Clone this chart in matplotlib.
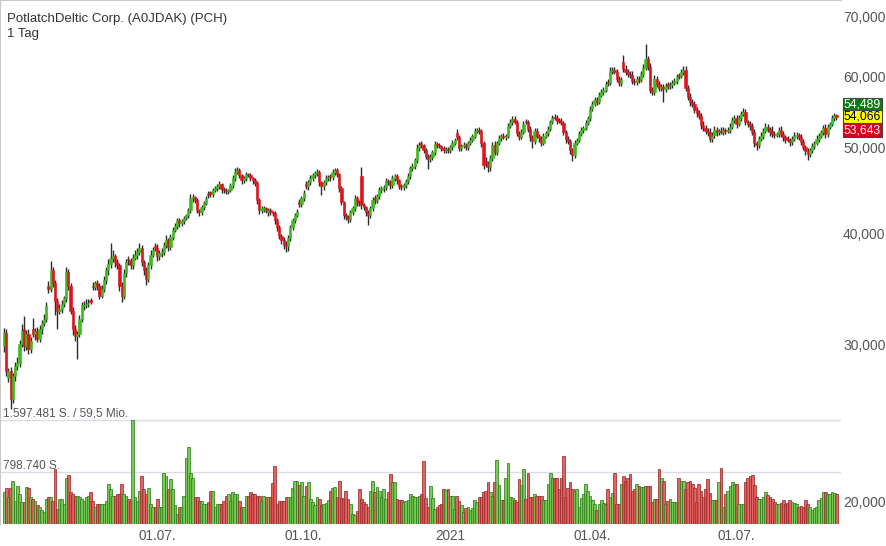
import numpy as np
import pandas as pd
import matplotlib
matplotlib.use("Agg")
import matplotlib.pyplot as plt
from matplotlib.ticker import FixedLocator, NullLocator

plt.rcParams["font.family"] = ["Liberation Sans", "DejaVu Sans"]

title = "PotlatchDeltic Corp. (A0JDAK) (PCH)"
period = "1 Tag"
start_date = "2020-03-26"

# daily candles (EUR)
opens = [
    29.95, 30.98, 27.57, 28.07, 26.11, 27.71, 28.44, 28.66, 30.11, 31.30,
    29.95, 30.90, 29.72, 31.30, 30.90, 31.14, 30.50, 31.30, 31.79, 32.12,
    34.98, 34.71, 36.37, 35.17, 33.65, 32.79, 32.96, 33.39, 33.83, 36.18,
    34.98, 32.79, 31.30, 30.74, 30.90, 32.12, 33.20, 33.30, 33.39, 33.70,
    34.98, 34.89, 35.17, 34.98, 34.09, 34.71, 35.44, 36.37, 36.94, 37.52,
    37.71, 37.13, 36.84, 34.98, 34.09, 36.09, 37.50, 37.32, 36.84, 37.52,
    37.81, 38.10, 38.50, 37.13, 36.37, 35.62, 36.84, 37.90, 38.70, 38.50,
    37.71, 38.00, 38.10, 38.80, 39.31, 38.60, 39.61, 40.34, 40.75, 41.40,
    41.08, 41.29, 41.61, 41.93, 42.48, 43.82, 43.93, 43.60, 42.48, 42.26,
    42.81, 43.26, 44.30, 44.50, 44.27, 44.74, 44.97, 45.20, 45.44, 44.86,
    44.74, 44.62, 44.74, 45.32, 46.15, 46.88, 47.12, 46.51, 45.91, 46.15,
    46.63, 46.51, 46.15, 45.91, 45.55, 43.60, 42.48, 42.55, 42.70, 42.30,
    42.48, 42.26, 42.15, 41.40, 40.65, 39.72, 39.31, 38.80, 38.70, 39.51,
    40.65, 41.40, 41.93, 43.40, 43.15, 43.82, 45.50, 45.20, 45.67, 46.15,
    46.51, 46.75, 46.88, 45.67, 45.20, 45.67, 46.15, 46.40, 46.27, 46.88,
    47.12, 46.63, 44.97, 43.37, 41.93, 41.72, 41.50, 42.26, 42.70, 43.82,
    43.37, 46.39, 43.03, 42.81, 42.26, 41.93, 42.70, 43.90, 43.60, 44.05,
    44.74, 44.97, 45.08, 45.79, 45.67, 45.32, 46.15, 46.39, 45.91, 45.20,
    45.08, 45.32, 45.79, 46.39, 47.36, 47.61, 48.35, 49.88, 50.53, 50.27,
    49.62, 48.85, 48.47, 48.73, 49.36, 50.40, 50.27, 50.14, 49.88, 49.62,
    49.75, 49.62, 50.01, 50.53, 51.85, 51.32, 49.88, 50.14, 50.27, 50.01,
    50.53, 50.92, 51.46, 52.13, 52.26, 52.13, 50.53, 48.30, 47.97, 47.48,
    48.60, 50.27, 49.36, 50.53, 51.19, 51.46, 51.32, 51.46, 52.80, 53.35,
    53.77, 53.35, 51.85, 51.32, 51.99, 53.50, 53.35, 52.40, 51.32, 50.79,
    52.13, 51.46, 51.19, 50.53, 51.46, 51.85, 52.40, 53.35, 54.05, 53.91,
    53.62, 53.49, 53.22, 51.99, 51.06, 50.79, 49.62, 48.98, 50.53, 50.92,
    51.72, 52.26, 52.53, 53.22, 53.91, 55.18, 55.89, 56.48, 56.19, 57.21,
    57.66, 57.96, 59.20, 59.02, 60.88, 61.04, 60.72, 59.64, 59.02, 62.32,
    61.20, 60.72, 60.41, 60.25, 59.33, 59.17, 59.64, 59.48, 60.41, 61.35,
    62.81, 61.51, 57.96, 57.66, 59.64, 58.86, 58.26, 58.41, 58.11, 58.80,
    58.56, 58.71, 59.02, 59.33, 60.25, 60.10, 60.72, 61.04, 58.26, 56.92,
    56.19, 55.89, 55.04, 54.61, 54.19, 52.94, 52.53, 52.13, 51.99, 51.06,
    51.59, 52.26, 51.99, 52.13, 51.99, 52.26, 52.13, 52.26, 52.67, 53.63,
    53.91, 53.08, 53.91, 54.47, 54.75, 53.35, 53.08, 52.80, 51.99, 50.53,
    50.27, 51.06, 51.46, 52.13, 52.67, 52.40, 52.20, 51.72, 51.59, 51.72,
    52.26, 51.72, 51.32, 51.10, 50.92, 50.66, 51.06, 51.46, 51.59, 51.32,
    50.66, 50.01, 49.49, 49.11, 49.62, 50.14, 50.53, 51.06, 51.46, 51.99,
    52.53, 51.72, 52.67, 53.08, 53.91, 54.33,
]
closes = [
    30.98, 28.07, 28.07, 26.11, 27.71, 28.44, 28.66, 30.11, 31.14, 29.95,
    30.90, 29.72, 30.34, 30.90, 31.14, 30.50, 31.30, 31.79, 32.12, 33.22,
    34.71, 36.37, 35.17, 33.65, 32.79, 32.96, 33.39, 33.83, 36.18, 34.98,
    32.79, 31.30, 30.74, 30.90, 32.12, 33.30, 33.30, 33.39, 33.48, 33.56,
    34.89, 35.17, 34.98, 34.09, 34.71, 35.44, 36.37, 36.94, 37.52, 37.71,
    37.13, 36.84, 34.98, 34.09, 36.09, 37.13, 37.32, 36.84, 37.52, 37.81,
    38.10, 38.50, 37.13, 36.37, 35.62, 36.84, 37.90, 38.30, 38.50, 37.71,
    38.00, 38.10, 38.80, 39.31, 38.60, 39.61, 40.34, 40.75, 41.40, 41.08,
    41.29, 41.61, 41.93, 42.48, 43.82, 43.93, 43.60, 42.48, 42.26, 42.81,
    43.26, 43.70, 44.16, 44.27, 44.74, 44.97, 45.20, 45.44, 44.86, 44.74,
    44.62, 44.74, 45.32, 46.15, 46.88, 47.12, 46.51, 45.91, 46.15, 46.63,
    46.51, 46.15, 45.91, 45.55, 43.60, 42.48, 42.70, 42.70, 42.48, 42.48,
    42.26, 42.15, 41.40, 40.65, 39.72, 39.31, 38.80, 38.70, 39.51, 40.65,
    41.40, 41.93, 42.26, 43.15, 43.82, 44.39, 45.20, 45.67, 46.15, 46.51,
    46.75, 46.88, 45.67, 45.20, 45.67, 46.15, 46.27, 46.27, 46.88, 47.12,
    46.63, 44.97, 43.37, 41.93, 41.72, 41.50, 42.26, 42.70, 43.82, 43.37,
    43.26, 43.03, 42.81, 42.26, 41.93, 42.70, 43.60, 43.60, 44.05, 44.74,
    44.97, 45.08, 45.79, 45.67, 45.32, 46.15, 46.39, 45.91, 45.20, 45.08,
    45.32, 45.79, 46.39, 47.36, 47.61, 48.35, 49.88, 50.27, 50.27, 49.62,
    48.85, 48.47, 48.73, 49.36, 50.40, 50.27, 50.14, 49.88, 49.62, 49.75,
    49.62, 50.01, 50.53, 50.92, 51.32, 49.88, 50.14, 50.27, 50.01, 50.53,
    50.92, 51.46, 52.13, 52.26, 52.13, 50.53, 47.73, 47.97, 47.48, 48.60,
    50.27, 49.36, 50.53, 51.19, 51.46, 51.32, 51.46, 52.80, 53.35, 53.77,
    53.35, 51.85, 51.32, 51.99, 53.08, 53.35, 52.40, 51.32, 50.79, 52.13,
    51.46, 51.19, 50.53, 51.46, 51.85, 52.40, 53.35, 53.91, 53.91, 53.49,
    53.49, 53.22, 51.99, 51.06, 50.79, 49.62, 48.98, 50.53, 50.92, 51.72,
    52.26, 52.53, 53.22, 53.91, 55.18, 55.89, 56.48, 56.19, 57.21, 57.66,
    57.96, 58.86, 59.02, 60.88, 61.04, 60.72, 59.64, 59.02, 59.48, 61.20,
    60.72, 60.41, 60.25, 59.33, 59.17, 59.64, 59.48, 60.41, 61.35, 62.81,
    61.51, 57.96, 57.66, 59.64, 58.86, 58.26, 58.41, 58.11, 58.56, 58.56,
    58.71, 59.02, 59.33, 59.95, 60.10, 60.72, 61.04, 58.26, 56.92, 56.19,
    55.89, 55.04, 54.61, 54.19, 52.94, 52.53, 52.13, 51.99, 51.06, 51.59,
    52.26, 51.99, 52.13, 51.99, 52.26, 52.13, 52.26, 52.67, 53.63, 53.91,
    53.08, 53.91, 54.47, 54.75, 53.35, 53.08, 52.80, 51.99, 50.53, 50.27,
    51.06, 51.46, 52.13, 52.67, 52.40, 51.99, 51.72, 51.59, 51.72, 52.26,
    51.72, 51.32, 50.92, 50.92, 50.66, 51.06, 51.46, 51.59, 51.32, 50.66,
    50.01, 49.49, 49.11, 49.62, 50.14, 50.53, 51.06, 51.46, 51.99, 52.53,
    51.72, 52.67, 53.08, 53.91, 54.33, 54.066,
]
# wick length above / below the body
wick_up = [
    .4, .3, .2, .3, .2, .3, .4, .3, .5, 1.0, .3, .4, .3, .9, .2, .3, .3, .2, .4, .3,
    .4, .9, .3, .3, .2, .4, .3, .2, .5, .3, .2, .3, .3, .2, .3, .2, .3, .4, .3, .2,
    .3, .2, .3, .2, .3, .4, .3, .5, 1.5, .6, .2, .3, .2, .3, .4, .3, .3, .2, .4, .5,
    .4, .5, .3, .2, .3, .3, .4, .3, .3, .4, .3, .4, .3, .5, .2, .3, .3, .4, .3, .2,
    .3, .3, .2, .3, .5, .4, .2, .3, .2, .3, .3, .4, .3, .2, .3, .3, .3, .4, .2, .3,
    .3, .2, .3, .4, .5, .4, .3, .2, .3, .3, .2, .3, .2, .3, .3, .2, .3, .3, .2, .3,
    .3, .2, .3, .2, .3, .2, .3, .4, .3, .2, .3, .3, .4, .3, .3, .4, .3, .3, .4, .3,
    .3, .4, .3, .2, .3, .4, .3, .3, .4, .3, .3, .2, .3, .2, .3, .2, .3, .3, .4, .3,
    .3, 1.1, .3, .2, .3, .3, .4, .3, .3, .4, .3, .3, .4, .3, .3, .4, .3, .3, .2, .3,
    .3, .3, .4, .3, .4, .3, .5, .4, .3, .2, .3, .3, .4, .3, .4, .3, .3, .2, .3, .3,
    .3, .3, .4, .3, .5, .3, .3, .4, .3, .3, .4, .3, .4, .3, .4, .3, .3, .5, .3, .4,
    .4, .5, .3, .4, .3, .4, .3, .5, .4, .5, .4, .3, .3, .4, .4, .3, .3, .4, .3, .4,
    .4, .3, .3, .4, .3, .4, .3, .5, .4, .4, .3, .4, .3, .3, .4, .3, .3, .4, .3, .4,
    .4, .3, .4, .3, .5, .4, .5, .4, .5, .4, .4, .5, .4, .6, .5, .4, .5, .4, .5, 1.2,
    .6, .5, .4, .6, .4, .5, .4, .5, .6, 2.4, .5, .6, .5, .6, .5, .5, .4, .5, .5, .4,
    .4, .5, .4, .5, .4, .5, .6, .6, .5, .6, .4, .5, .4, .5, .4, .5, .4, .4, .5, .4,
    .5, .4, .3, .5, .4, .3, .4, .5, .4, .5, .4, .5, .4, .6, .4, .3, .4, .5, .4, .3,
    .4, .5, .4, .5, .4, .3, .6, .4, .3, .4, .5, .4, .3, .4, .3, .4, .5, .4, .3, .4,
    .4, .3, .4, .3, .4, .3, .5, .4, .3, .4, .5, .4, .3, .4, .3, .159,
]
wick_dn = [
    .5, .4, .3, .7, .3, .4, .3, .3, .3, .4, .3, .4, .3, .3, .5, .3, .3, .4, .3, .3,
    .4, .3, .3, 1.2, 1.5, .3, .4, .3, .3, .4, .3, .5, .4, 1.8, .3, .3, .4, .3, .3, .2,
    .3, .3, .4, .3, .2, .3, .3, .4, .3, .3, .4, .3, .5, .6, .3, .3, .4, .3, .3, .2,
    .3, .2, .3, .4, .6, .3, .3, .2, .3, .4, .3, .3, .2, .3, .4, .3, .3, .2, .3, .4,
    .3, .3, .2, .3, .3, .4, .3, .3, .4, .3, .3, .2, .3, .3, .3, .2, .3, .3, .4, .3,
    .3, .3, .2, .3, .3, .2, .3, .4, .3, .3, .2, .3, .4, .3, .4, .4, .3, .3, .3, .4,
    .3, .3, .4, .4, .3, .4, .4, .6, .5, .3, .3, .3, .2, .3, .3, .3, .3, .4, .3, .3,
    .3, .3, .4, 1.0, .4, .3, .3, .4, .3, .3, .3, .4, .3, .4, .3, .4, .3, .3, .3, .4,
    .3, .4, .3, .4, 1.0, .3, .3, .4, .3, .3, .3, .4, .3, .3, .4, .3, .3, .4, .3, .3,
    .3, .3, .3, .3, .3, .3, .4, .3, .4, .4, .3, 1.2, .3, .3, .3, .4, .3, .3, .4, .3,
    .3, .3, .3, .3, .4, .3, .3, .3, .4, .3, .3, .3, .3, .3, .4, .5, .5, .4, .6, .4,
    .4, .4, .3, .3, .4, .3, .4, .3, .3, .4, .3, .4, .4, .3, .3, .3, .4, .5, .9, .4,
    .3, .5, .4, .3, .3, .4, .3, .3, .3, .4, .3, .3, .4, .5, .4, .5, .7, .4, .3, .3,
    .3, .4, .3, .3, .4, .3, .3, .4, .3, .3, .4, .3, .4, .3, .4, .3, .5, .4, .4, .4,
    .4, .5, .4, .4, .5, .4, .4, .3, .4, .3, .4, .4, .5, .4, .5, .4, .5, 1.9, .4, .5,
    .4, .4, .3, .4, .4, .3, .4, .5, .4, .5, .4, .4, .5, .4, .5, .4, .4, .5, .4, .4,
    .4, .5, .4, .3, .4, .4, .3, .4, .3, .4, .5, .3, .4, .3, .4, .4, .5, .4, .5, .65,
    .4, .3, .4, .3, .4, .5, .4, .4, .3, .4, .4, .5, .4, .3, .5, .4, .3, .4, .4, .4,
    .4, .5, .76, .4, .3, .4, .3, .4, .3, .4, .5, .4, .3, .3, .4, .423,
]
# daily volume, thousand shares
volumes_k = [
    485, 550, 410, 550, 660, 360, 585, 460, 335, 335,
    570, 560, 410, 385, 360, 285, 260, 210, 180, 385,
    410, 410, 360, 840, 235, 385, 385, 310, 710, 755,
    485, 460, 435, 435, 410, 385, 360, 410, 435, 485,
    360, 260, 310, 310, 310, 310, 360, 610, 535, 435,
    435, 460, 460, 610, 460, 435, 385, 360, 1597, 410,
    360, 510, 735, 535, 460, 560, 310, 260, 260, 385,
    260, 260, 790, 735, 535, 690, 535, 285, 160, 260,
    260, 435, 1015, 1190, 790, 710, 410, 410, 360, 360,
    310, 310, 335, 510, 510, 260, 310, 310, 310, 360,
    435, 460, 360, 485, 460, 460, 360, 260, 260, 435,
    435, 485, 460, 460, 435, 435, 360, 435, 410, 410,
    410, 635, 885, 300, 360, 360, 360, 410, 410, 410,
    550, 660, 660, 600, 638, 437, 588, 638, 387, 340,
    286, 412, 380, 286, 311, 330, 362, 512, 560, 563,
    420, 663, 400, 387, 512, 387, 311, 161, 136, 200,
    537, 387, 340, 311, 261, 500, 663, 487, 563, 500,
    412, 537, 387, 487, 764, 638, 650, 387, 362, 362,
    337, 350, 362, 462, 430, 412, 412, 430, 462, 965,
    400, 261, 588, 400, 236, 261, 286, 300, 537, 520,
    537, 437, 437, 236, 437, 350, 286, 186, 240, 261,
    211, 250, 362, 337, 412, 412, 487, 500, 638, 487,
    437, 638, 990, 600, 362, 362, 700, 940, 412, 400,
    362, 337, 688, 600, 839, 387, 789, 412, 412, 462,
    437, 437, 437, 362, 362, 613, 789, 700, 713, 713,
    537, 700, 1040, 412, 560, 638, 537, 510, 537, 261,
    400, 462, 613, 510, 437, 362, 300, 211, 300, 362,
    320, 311, 537, 412, 480, 789, 311, 311, 613, 738,
    663, 700, 764, 512, 530, 613, 588, 563, 563, 588,
    588, 588, 337, 387, 387, 839, 700, 663, 311, 350,
    387, 337, 340, 337, 713, 663, 663, 537, 640, 663,
    613, 560, 337, 613, 500, 412, 537, 688, 480, 362,
    362, 362, 650, 864, 261, 462, 500, 588, 638, 613,
    613, 311, 311, 311, 638, 700, 738, 753, 600, 412,
    390, 387, 420, 487, 450, 412, 387, 337, 311, 311,
    330, 362, 311, 330, 362, 337, 320, 311, 261, 280,
    261, 362, 300, 261, 211, 250, 261, 362, 400, 487,
    487, 462, 462, 487, 480, 460,
]

price_ticks = [20, 30, 40, 50, 60, 70]
tick_dates = ["2020-07-01", "2020-10-01", "2021-01-01", "2021-04-01", "2021-07-01"]
tick_labels = ["01.07.", "01.10.", "2021", "01.04.", "01.07."]
vol_levels = [1597.481, 798.740]
vol_texts = ["1.597.481 S. / 59,5 Mio.", "798.740 S."]
badge_vals = [54.489, 54.066, 53.643]


def de_num(v):
    return f"{v:.3f}".replace(".", ",")


n = len(closes)
idx = np.arange(n)
o = np.array(opens)
c = np.array(closes)
hi = np.maximum(o, c) + np.array(wick_up)
lo = np.minimum(o, c) - np.array(wick_dn)
up = c > o
dn = c < o

dates = pd.bdate_range(start_date, periods=n)
tick_pos = [int(np.searchsorted(dates, pd.Timestamp(d))) for d in tick_dates]

fig = plt.figure(figsize=(8.87, 5.46), dpi=100)
axv = fig.add_axes([0, 22 / 546, 841 / 887, 524 / 546])
axp = axv.twinx()

# volume
vface = np.where(up, "#6cc64a", np.where(dn, "#e05555", "#c6c6c6"))
vedge = np.where(up, "#2f7d1c", np.where(dn, "#9c2a2a", "#8e8e8e"))
axv.bar(idx, volumes_k, width=1.25, color=vface, edgecolor=vedge,
        linewidth=0.6, alpha=0.9, zorder=2)
for lv, txt in zip(vol_levels, vol_texts):
    axv.axhline(lv, color="#dcdce6", lw=1, zorder=1)
    axv.annotate(txt, xy=(0, lv), xycoords=("axes fraction", "data"),
                 xytext=(2, 2.2), textcoords="offset points",
                 ha="left", va="baseline", fontsize=8.5, color="#555555")
axv.set_ylim(0, vol_levels[0] * 524 / 104)
axv.set_xlim(-1.8, -1.8 + 841 / 2.22)
axv.set_yticks([])
axv.set_xticks(tick_pos)
axv.set_xticklabels(tick_labels)
axv.tick_params(axis="x", length=0, pad=3.5, labelsize=9.8, labelcolor="#555555")

# candles
axp.set_yscale("log")
axp.vlines(idx, lo, hi, color="#2b2b2b", lw=1.0, zorder=2)
ccol = np.where(up, "#3dbb1c", np.where(dn, "#e2111b", "#888888"))
axp.bar(idx, np.abs(c - o), bottom=np.minimum(o, c), width=1.0,
        color=ccol, edgecolor=ccol, linewidth=0.4, zorder=3)
axp.set_ylim(70 * np.exp(-507 / 387.1), 70 * np.exp(17 / 387.1))
axp.yaxis.set_major_locator(FixedLocator(price_ticks))
axp.yaxis.set_minor_locator(NullLocator())
axp.set_yticklabels([de_num(t) for t in price_ticks])
axp.tick_params(axis="y", length=0, pad=1.5, labelsize=10, labelcolor="#555555")

for a in (axv, axp):
    for s in a.spines.values():
        s.set_visible(False)
axv.spines["left"].set_visible(True)
axv.spines["left"].set_color("#c8c8c8")
axv.spines["top"].set_visible(True)
axv.spines["top"].set_color("#c8c8c8")

# last price badges
badge_style = [(6.5, "#0b7a16", "white"), (0, "#ffff00", "black"), (-7.2, "#e0001b", "white")]
for val, (off, fc, tc) in zip(badge_vals, badge_style):
    axp.annotate(de_num(val), xy=(1, val), xycoords=("axes fraction", "data"),
                 xytext=(2, off), textcoords="offset points", ha="left", va="center",
                 fontsize=8.7, color=tc,
                 bbox=dict(boxstyle="square,pad=0.08", fc=fc, ec="#444444", lw=0.8))

fig.text(7 / 887, 1 - 22 / 546, title, fontsize=9.5, color="#333333", va="baseline")
fig.text(7 / 887, 1 - 37 / 546, period, fontsize=9.5, color="#333333", va="baseline")

fig.savefig("out.png", dpi=100)
